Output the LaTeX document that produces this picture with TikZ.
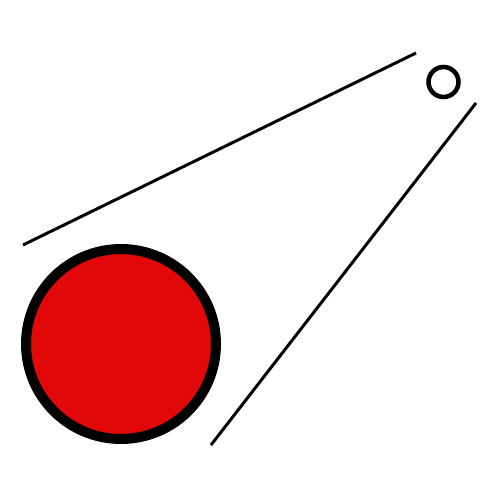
\documentclass[tikz,border=0pt]{standalone}
\usepackage{tikz}
\usetikzlibrary{positioning}
\definecolor{ballred}{RGB}{224,8,8}
\tikzset{
	bigball/.style={circle, draw, fill=ballred, line width=5.7pt, inner sep=0pt, minimum size=3.8cm}
}
\tikzset{
	smallball/.style={circle, draw, fill=white, line width=2.6pt, inner sep=0pt, minimum size=0.6cm}
}
\tikzset{
	trail/.style={line width=1.7pt}
}

\begin{document}
\begin{tikzpicture}[x=0.02cm, y=-0.02cm]
      \useasboundingbox (0,0) rectangle (500,500);
      \node[bigball] (ball) at (121,344) {};
      \node[smallball] (dot) at (443.5,82) {};

      % trail edges
      \coordinate (t1a) at (23,245);
      \coordinate (t1b) at (416,53);
      \coordinate (t2a) at (211,445);
      \coordinate (t2b) at (476,103);
      \draw[trail] (t1a) -- (t1b);
      \draw[trail] (t2a) -- (t2b);
    \end{tikzpicture}
\end{document}
